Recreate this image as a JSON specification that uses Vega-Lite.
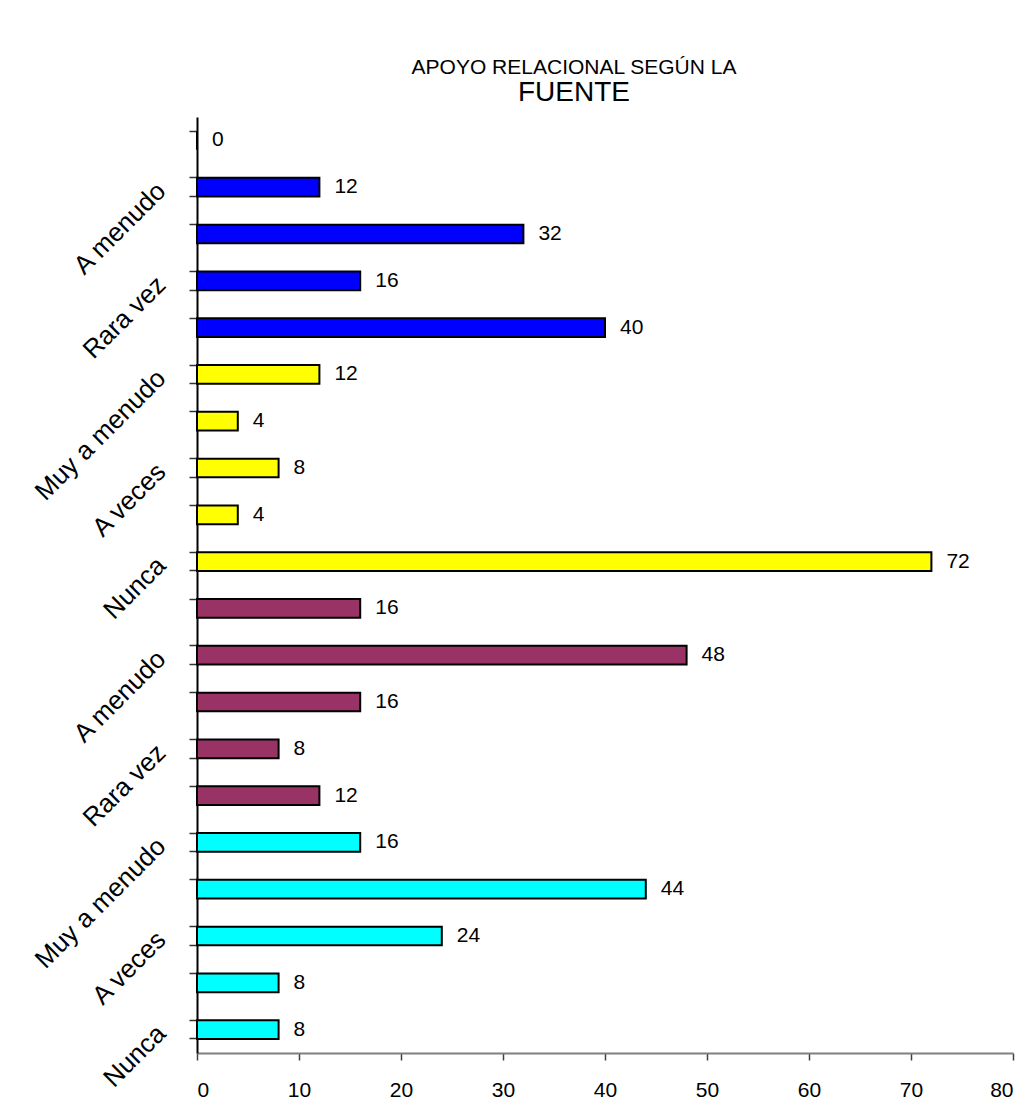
{
  "$schema": "https://vega.github.io/schema/vega-lite/v6.json",
  "width": 816,
  "height": 936,
  "autosize": "none",
  "padding": {"left": 197, "top": 117, "right": 16, "bottom": 64},
  "background": "white",
  "config": {"view": {"stroke": null}, "font": "Liberation Sans"},
  "title": {
    "text": "APOYO RELACIONAL SEGÚN LA",
    "subtitle": "FUENTE",
    "fontSize": 21,
    "subtitleFontSize": 28,
    "fontWeight": "normal",
    "font": "Liberation Sans",
    "subtitleFont": "Liberation Sans",
    "color": "black",
    "subtitleColor": "black",
    "anchor": "middle",
    "dx": -31,
    "offset": 10,
    "subtitlePadding": 1
  },
  "data": {
    "values": [
      {"key": "01 Nunca", "grupo": "g1", "valor": 8},
      {"key": "02 Rara vez", "grupo": "g1", "valor": 8},
      {"key": "03 A veces", "grupo": "g1", "valor": 24},
      {"key": "04 A menudo", "grupo": "g1", "valor": 44},
      {"key": "05 Muy a menudo", "grupo": "g1", "valor": 16},
      {"key": "06 Nunca", "grupo": "g2", "valor": 12},
      {"key": "07 Rara vez", "grupo": "g2", "valor": 8},
      {"key": "08 A veces", "grupo": "g2", "valor": 16},
      {"key": "09 A menudo", "grupo": "g2", "valor": 48},
      {"key": "10 Muy a menudo", "grupo": "g2", "valor": 16},
      {"key": "11 Nunca", "grupo": "g3", "valor": 72},
      {"key": "12 Rara vez", "grupo": "g3", "valor": 4},
      {"key": "13 A veces", "grupo": "g3", "valor": 8},
      {"key": "14 A menudo", "grupo": "g3", "valor": 4},
      {"key": "15 Muy a menudo", "grupo": "g3", "valor": 12},
      {"key": "16 Nunca", "grupo": "g4", "valor": 40},
      {"key": "17 Rara vez", "grupo": "g4", "valor": 16},
      {"key": "18 A veces", "grupo": "g4", "valor": 32},
      {"key": "19 A menudo", "grupo": "g4", "valor": 12},
      {"key": "20 Muy a menudo", "grupo": "g4", "valor": 0}
    ]
  },
  "encoding": {
    "y": {
      "field": "key",
      "type": "nominal",
      "sort": "descending",
      "scale": {"paddingInner": 0.6, "paddingOuter": 0.3}
    },
    "x": {
      "field": "valor",
      "type": "quantitative",
      "scale": {"domain": [0, 80], "nice": false},
      "axis": {
        "values": [0, 10, 20, 30, 40, 50, 60, 70, 80],
        "title": null,
        "grid": false,
        "domainColor": "#808080",
        "domainWidth": 2,
        "tickColor": "#404040",
        "tickWidth": 1.5,
        "tickSize": 7,
        "labelFontSize": 21,
        "labelColor": "black",
        "labelPadding": 19,
        "labelFont": "Liberation Sans"
      }
    }
  },
  "layer": [
    {
      "mark": {"type": "bar", "stroke": "black", "strokeWidth": 2},
      "encoding": {
        "color": {
          "field": "grupo",
          "type": "nominal",
          "scale": {"domain": ["g1", "g2", "g3", "g4"], "range": ["#00FFFF", "#993366", "#FFFF00", "#0000FF"]},
          "legend": null
        },
        "y": {
          "field": "key",
          "type": "nominal",
          "sort": "descending",
          "axis": {
            "orient": "left",
            "bandPosition": 0,
            "labels": false,
            "ticks": true,
            "tickSize": 8,
            "tickColor": "#333333",
            "tickWidth": 1.5,
            "domain": true,
            "domainColor": "black",
            "domainWidth": 2,
            "title": null
          }
        }
      }
    },
    {
      "mark": {"type": "text", "align": "left", "baseline": "middle", "dx": 15, "fontSize": 21, "font": "Liberation Sans", "color": "black"},
      "encoding": {
        "text": {"field": "valor", "type": "quantitative"},
        "y": {
          "field": "key",
          "type": "nominal",
          "sort": "descending",
          "axis": {
            "orient": "left",
            "bandPosition": 1,
            "values": ["01 Nunca", "03 A veces", "05 Muy a menudo", "07 Rara vez", "09 A menudo", "11 Nunca", "13 A veces", "15 Muy a menudo", "17 Rara vez", "19 A menudo"],
            "labelExpr": "substring(datum.value, 3)",
            "labelAngle": -45,
            "labelAlign": "right",
            "labelBaseline": "middle",
            "labelFontSize": 26,
            "labelFont": "Liberation Sans",
            "labelColor": "black",
            "labelPadding": 28,
            "labelOffset": 0,
            "tickSize": 8,
            "tickColor": "#333333",
            "tickWidth": 1.5,
            "domain": false,
            "title": null
          }
        }
      }
    }
  ],
  "resolve": {"axis": {"y": "independent"}}
}
